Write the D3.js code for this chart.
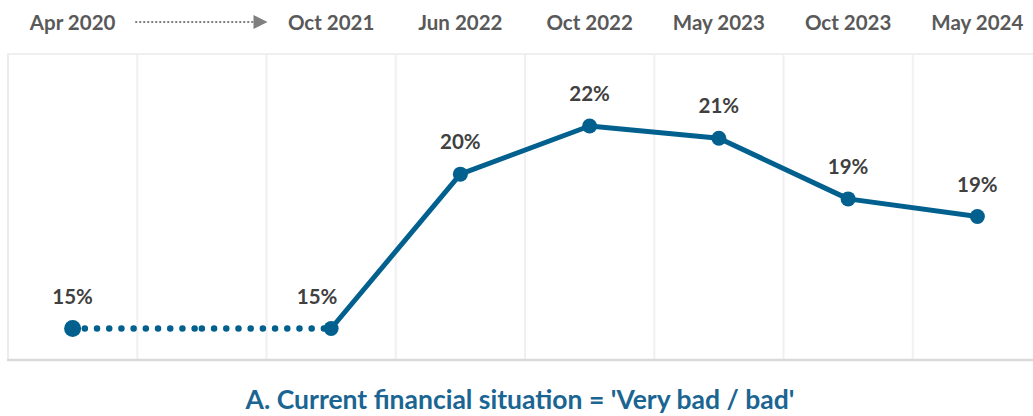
<!DOCTYPE html>
<html>
<head>
<meta charset="utf-8">
<script src="https://cdn.jsdelivr.net/npm/d3@7"></script>
<style>
  html, body { margin: 0; padding: 0; background: #fff; }
  svg { display: block; font-family: Lato, "Open Sans", sans-serif; }
</style>
</head>
<body>
<svg id="chart" width="1033" height="416"></svg>
<script>
// Survey waves (the second slot is a gap bridged by the dotted connector)
const waves = ["Apr 2020", "", "Oct 2021", "Jun 2022", "Oct 2022", "May 2023", "Oct 2023", "May 2024"];
// Share answering 'Very bad / bad' (%), null where no survey ran
const shareVeryBadBad = [15.0, null, 15.0, 20.06, 21.64, 21.24, 19.25, 18.67];
const chartTitle = "A. Current financial situation = 'Very bad / bad'";

const W = 1033, H = 416;
const plot = { left: 8, right: 1042, top: 54, bottom: 359 };
const blue = "#02608f";

const svg = d3.select("#chart");

const x = d3.scaleBand().domain(waves.map((d, i) => i)).range([plot.left, plot.right]).padding(0);
const y = d3.scaleLinear().domain([14, 24]).range([plot.bottom, plot.top]);
const cx = i => x(i) + x.bandwidth() / 2;

// Vertical band separators
const grid = svg.append("g");
waves.forEach((w, i) => {
  grid.append("line")
    .attr("x1", x(i)).attr("x2", x(i))
    .attr("y1", plot.top).attr("y2", plot.bottom)
    .attr("stroke", i === 0 ? "#ececec" : "#f0f0f0")
    .attr("stroke-width", 2);
});
// Top border
svg.append("line")
  .attr("x1", plot.left - 1).attr("x2", W)
  .attr("y1", plot.top).attr("y2", plot.top)
  .attr("stroke", "#efefef").attr("stroke-width", 2);
// Bottom axis line
svg.append("line")
  .attr("x1", plot.left - 1).attr("x2", W)
  .attr("y1", plot.bottom + 1).attr("y2", plot.bottom + 1)
  .attr("stroke", "#d9d9d9").attr("stroke-width", 2.5);

// Header labels
svg.append("g").selectAll("text")
  .data(waves.map((w, i) => ({ w, i })).filter(d => d.w !== ""))
  .join("text")
  .attr("x", d => cx(d.i))
  .attr("y", 29.5)
  .attr("text-anchor", "middle")
  .attr("font-size", 20.5)
  .attr("font-weight", 700)
  .attr("fill", "#595959")
  .text(d => d.w);

// Dotted arrow across the gap in the header
const gapIdx = waves.indexOf("");
const ax0 = x(gapIdx) - 2, ax1 = x(gapIdx + 1) + 1, ay = 22;
svg.append("line")
  .attr("x1", ax0).attr("x2", ax1 - 12)
  .attr("y1", ay).attr("y2", ay)
  .attr("stroke", "#7f7f7f").attr("stroke-width", 2)
  .attr("stroke-dasharray", "2 2");
svg.append("path")
  .attr("d", `M${ax1 - 14},${ay - 7}L${ax1},${ay}L${ax1 - 14},${ay + 7}Z`)
  .attr("fill", "#7f7f7f");

// Dotted connector bridging the gap (two halves, each restarting its dot pattern)
const firstIdx = 0, nextIdx = gapIdx + 1;
const midX = cx(gapIdx);
[[cx(firstIdx), midX], [midX, cx(nextIdx)]].forEach(([a, b]) => {
  svg.append("line")
    .attr("x1", a).attr("x2", b)
    .attr("y1", y(shareVeryBadBad[firstIdx])).attr("y2", y(shareVeryBadBad[nextIdx]))
    .attr("stroke", blue).attr("stroke-width", 6.5)
    .attr("stroke-linecap", "round")
    .attr("stroke-dasharray", "0 12.2");
});

// Solid line from Oct 2021 onward
const solid = shareVeryBadBad.map((v, i) => ({ v, i })).filter(d => d.i >= nextIdx && d.v != null);
svg.append("path")
  .datum(solid)
  .attr("d", d3.line().x(d => cx(d.i)).y(d => y(d.v)))
  .attr("fill", "none")
  .attr("stroke", blue)
  .attr("stroke-width", 5)
  .attr("stroke-linejoin", "round");

// Markers
const pts = shareVeryBadBad.map((v, i) => ({ v, i })).filter(d => d.v != null);
svg.append("g").selectAll("circle")
  .data(pts)
  .join("circle")
  .attr("cx", d => cx(d.i))
  .attr("cy", d => y(d.v))
  .attr("r", d => d.i === 0 ? 8.5 : 7.5)
  .attr("fill", blue);

// Value labels (the one where the solid line starts is nudged left, clear of the rising segment)
svg.append("g").selectAll("text")
  .data(pts)
  .join("text")
  .attr("x", d => cx(d.i) + (d.i === nextIdx ? -14 : 0))
  .attr("y", d => y(d.v) - 25)
  .attr("text-anchor", "middle")
  .attr("font-size", 20.5)
  .attr("font-weight", 700)
  .attr("fill", "#404040")
  .text(d => d3.format(".0f")(d.v) + "%");

// Title
svg.append("text")
  .attr("x", 520)
  .attr("y", 409)
  .attr("text-anchor", "middle")
  .attr("font-size", 26.5)
  .attr("font-weight", 700)
  .attr("fill", "#1a6592")
  .text(chartTitle);
</script>
</body>
</html>
